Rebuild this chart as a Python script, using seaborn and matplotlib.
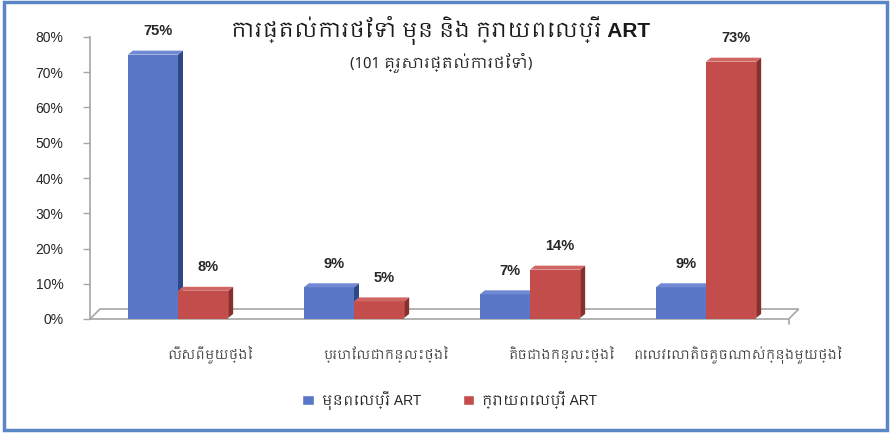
import matplotlib
matplotlib.use("Agg")
import matplotlib.pyplot as plt
from matplotlib import font_manager
from matplotlib.patches import Polygon, Rectangle
import pandas as pd
import seaborn as sns

# ---- data -------------------------------------------------------------
title = "ការផ្តល់ការថែទាំ មុន និង ក្រោយពេលប្រើ ART"
subtitle = "(101 គ្រួសារផ្តល់ការថែទាំ)"
categories = [
    "លើសពីមួយថ្ងៃ",
    "ប្រហែលជាកន្លះថ្ងៃ",
    "តិចជាងកន្លះថ្ងៃ",
    "ពេលវេលាតិចតួចណាស់ក្នុងមួយថ្ងៃ",
]
series = ["មុនពេលប្រើ ART", "ក្រោយពេលប្រើ ART"]
before_art = [75, 9, 7, 9]
after_art = [8, 5, 14, 73]
y_ticks = [0, 10, 20, 30, 40, 50, 60, 70, 80]

# ---- style ------------------------------------------------------------
sns.set_theme(style="white")
khmer_fonts = sorted({f.name for f in font_manager.fontManager.ttflist
                      if "khmer" in f.name.lower()})
text_family = khmer_fonts[:1] + ["Liberation Sans", "DejaVu Sans"]
num_family = ["Liberation Sans", "DejaVu Sans"]
plt.rcParams["font.family"] = text_family

front_colors = ["#5a76c6", "#c24d4b"]
side_colors = ["#2e4888", "#8a2f2e"]
top_colors = ["#7089d2", "#d06664"]

df = pd.DataFrame({
    "category": categories * 2,
    "series": [series[0]] * len(categories) + [series[1]] * len(categories),
    "value": before_art + after_art,
})

fig = plt.figure(figsize=(8.91, 4.33), dpi=100)
fig.patch.set_facecolor("white")
ax = fig.add_axes([90 / 891, 114 / 433, 704 / 891, 282 / 433])

sns.barplot(data=df, x="category", y="value", hue="series",
            palette=front_colors, width=0.57, gap=0, saturation=1,
            legend=False, ax=ax, linewidth=0)

ax.set_xlim(-0.5, 3.5)
ax.set_ylim(0, 80)

# pixel -> data conversion for the pseudo-3D depth
px_x = 4.0 / 704
px_y = 80.0 / 282

# floor of the chart
floor_dx, floor_dy = 10 * px_x, 10 * px_y
floor_right = 3.47
floor = Polygon([(-0.5, 0), (-0.5 + floor_dx, floor_dy),
                 (floor_right + floor_dx, floor_dy), (floor_right, 0)],
                closed=True, facecolor="white", edgecolor="#a6a6a6",
                linewidth=1.2, zorder=0.5, clip_on=False)
ax.add_patch(floor)
ax.plot([floor_right, floor_right], [0, -1.5], color="#a6a6a6", lw=1.2,
        clip_on=False)

# depth faces on every bar
n = len(categories)
bar_dx, bar_dy = 5 * px_x, 4 * px_y
for i, bar in enumerate(ax.patches[: 2 * n]):
    s = i // n
    x0 = bar.get_x()
    x1 = x0 + bar.get_width()
    h = bar.get_height()
    z = 2 + s
    bar.set_zorder(z)
    side = Polygon([(x1, 0.3), (x1 + bar_dx, 0.3 + bar_dy),
                    (x1 + bar_dx, h + bar_dy), (x1, h)],
                   closed=True, facecolor=side_colors[s], edgecolor="none",
                   zorder=z + 0.1, clip_on=False)
    top = Polygon([(x0, h), (x0 + bar_dx, h + bar_dy),
                   (x1 + bar_dx, h + bar_dy), (x1, h)],
                  closed=True, facecolor=top_colors[s], edgecolor="none",
                  zorder=z + 0.1, clip_on=False)
    ax.add_patch(side)
    ax.add_patch(top)
    ax.text((x0 + x1) / 2 + bar_dx, h + bar_dy + 3.5, f"{h:.0f}%",
            ha="center", va="bottom", fontsize=10.5, fontweight="bold",
            family=num_family, color="#262626", zorder=10)

# axes decoration
for side_name in ["top", "right", "bottom"]:
    ax.spines[side_name].set_visible(False)
ax.spines["left"].set_color("#a6a6a6")
ax.spines["left"].set_linewidth(1.2)
ax.set_yticks(y_ticks)
ax.set_yticklabels([f"{v}%" for v in y_ticks], family=num_family)
ax.tick_params(axis="y", direction="out", length=5, width=1, color="#a6a6a6",
               labelsize=10, labelcolor="#262626", pad=14, left=True)
ax.set_xticks([])
ax.set_xlabel("")
ax.set_ylabel("")

for i, label in enumerate(categories):
    ax.text(i + 0.18, -7.5, label, ha="center", va="top", fontsize=9,
            color="#404040")

# titles
fig.text(0.495, 0.93, title, ha="center", va="center", fontsize=15,
         fontweight="bold", color="#1a1a1a")
fig.text(0.495, 0.855, subtitle, ha="center", va="center", fontsize=11,
         color="#262626")

# legend
handles = [Rectangle((0, 0), 1, 1, facecolor=c) for c in front_colors]
fig.legend(handles, series, loc="center", bbox_to_anchor=(0.505, 0.075),
           ncol=2, frameon=False, fontsize=10, handlelength=0.8,
           handleheight=0.8, columnspacing=3.0, handletextpad=0.6)

# outer frame
fig.patches.append(Rectangle((0.004, 0.006), 0.991, 0.989,
                             transform=fig.transFigure, fill=False,
                             edgecolor="#5b86c5", linewidth=2.5))

fig.savefig("out.png", dpi=100)
